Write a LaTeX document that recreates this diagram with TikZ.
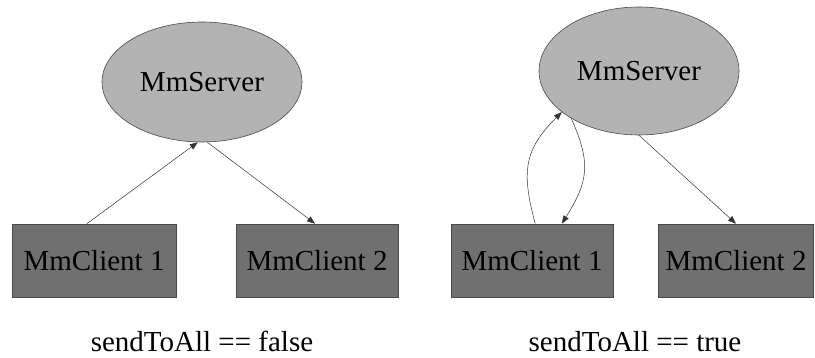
\documentclass[tikz,border=0pt]{standalone}
\usepackage{fontspec}
\setmainfont{Liberation Serif}
\newfontfamily\labelfont{Liberation Serif}
\usetikzlibrary{shapes.geometric,arrows.meta}

\definecolor{srvgray}{HTML}{B3B3B3}
\definecolor{cligray}{HTML}{707070}
\definecolor{edgegray}{HTML}{4A4A4A}

\tikzset{server/.style={ellipse, draw=edgegray, fill=srvgray, line width=0.6pt, minimum width=200pt, inner sep=0pt, font=\labelfont\fontsize{29}{32}\selectfont}}
\tikzset{client/.style={rectangle, draw=edgegray, fill=cligray, line width=0.6pt, minimum height=73pt, inner sep=0pt, font=\labelfont\fontsize{29}{32}\selectfont}}
\tikzset{caption/.style={anchor=base, inner sep=0pt, font=\labelfont\fontsize{29}{32}\selectfont}}
\tikzset{link/.style={-{Triangle[length=8pt,width=6pt]}, draw=black!80, line width=0.5pt}}

\begin{document}
\begin{tikzpicture}[x=1pt,y=1pt]
			\useasboundingbox (0,0) rectangle (815,358);
			
			% Define nodes for the left side (false)
			\node[server, minimum height=120pt] (S1) at (202,276) {MmServer};
			\node[client, minimum width=164pt] (C11) at (94,97.5) {MmClient 1};
			\node[client, minimum width=162pt] (C12) at (317,97.5) {MmClient 2};
			\node[caption] (L1) at (202,6) {sendToAll == false};
			
			% Define nodes for the right side (true)
			\node[server, minimum height=128pt] (S2) at (639,287) {MmServer};
			\node[client, minimum width=162pt] (C21) at (532,97.5) {MmClient 1};
			\node[client, minimum width=155pt] (C22) at (736,97.5) {MmClient 2};
			\node[caption] (L2) at (635,6) {sendToAll == true};
			
			% Draw edges between the nodes
			\draw[link] (C11.101) -- (S1.266);
			\draw[link] (S1.275) -- (C12.93);
			\draw[link] (C21.85) to[out=105, in=225, looseness=1.2] (S2.208);
			\draw[link] (S2.215) to[out=-66, in=58, looseness=1.2] (C21.51);
			\draw[link] (S2.south) -- (C22.north);
		\end{tikzpicture}
\end{document}
